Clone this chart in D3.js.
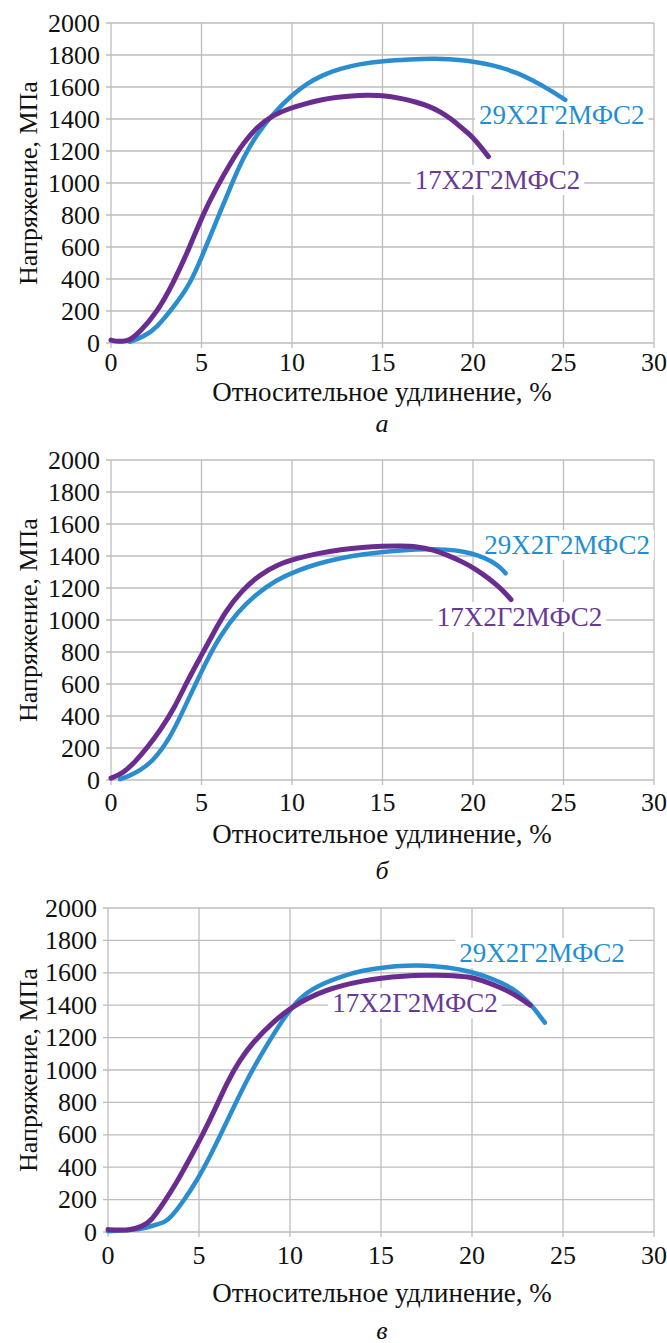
<!DOCTYPE html>
<html><head><meta charset="utf-8">
<script src="https://cdn.jsdelivr.net/npm/d3@7"></script>
<style>html,body{margin:0;padding:0;background:#fff;}svg{display:block;}
text{font-family:"Liberation Serif","Times New Roman",Times,"DejaVu Serif",serif;}</style>
</head><body>
<svg id="chart" width="667" height="1343"></svg>
<script>
// ---- data ----
const xTicks = [0, 5, 10, 15, 20, 25, 30];
const yTicks = [0, 200, 400, 600, 800, 1000, 1200, 1400, 1600, 1800, 2000];
const seriesNames = ["29Х2Г2МФС2", "17Х2Г2МФС2"];
const panelCaptions = ["а", "б", "в"];
const xTitle = "Относительное удлинение, %";
const yTitle = "Напряжение, МПа";

// panel а
const a29 = [[1.05,8],[1.8,40],[2.5,90],[3.6,245],[4.4,375],[5.1,560],[5.85,770],[6.6,975],[7.3,1160],[8.2,1330],[9.15,1455],[9.9,1540],[10.8,1620],[11.7,1675],[12.65,1715],[13.8,1745],[15.0,1762],[16.5,1772],[17.8,1778],[18.7,1775],[19.65,1766],[20.6,1748],[21.5,1725],[22.4,1690],[23.3,1642],[24.2,1585],[25.1,1520]];
const a17 = [[0,18],[0.3,10],[0.6,12],[1.0,12],[1.6,70],[2.5,185],[3.45,375],[4.35,600],[5.1,810],[5.85,975],[6.6,1125],[7.3,1248],[8.05,1350],[8.95,1425],[9.9,1468],[10.8,1497],[11.6,1520],[12.4,1535],[13.3,1545],[14.1,1550],[15.0,1548],[16.0,1530],[16.9,1505],[17.6,1478],[18.2,1445],[18.8,1400],[19.3,1352],[19.8,1305],[20.2,1258],[20.85,1165]];
// panel б
const b29 = [[0.5,5],[1.0,25],[1.6,60],[2.3,115],[3.25,260],[3.95,425],[4.65,595],[5.35,760],[6.05,905],[7.0,1050],[7.95,1155],[9.1,1250],[10.3,1310],[11.5,1355],[12.7,1388],[13.9,1410],[15.0,1425],[16.2,1437],[17.4,1443],[18.5,1442],[19.5,1428],[20.3,1405],[21.0,1370],[21.5,1330],[21.8,1292]];
const b17 = [[0,12],[0.65,40],[1.35,115],[2.05,208],[2.8,325],[3.5,450],[4.2,615],[4.9,760],[5.6,905],[6.3,1050],[7.25,1188],[8.2,1280],[9.1,1342],[10.3,1387],[11.5,1418],[12.7,1440],[13.9,1455],[15.0,1462],[16.0,1463],[16.9,1460],[17.8,1438],[18.6,1405],[19.4,1365],[20.2,1315],[20.9,1258],[21.6,1192],[22.1,1127]];
// panel в
const c29 = [[0,5],[1.2,10],[2.1,25],[2.8,50],[3.1,60],[3.5,95],[4.2,200],[4.9,320],[5.6,465],[6.3,628],[7.0,792],[7.7,955],[8.65,1140],[9.6,1312],[10.5,1445],[11.45,1518],[12.85,1580],[14.0,1615],[15.2,1635],[16.4,1645],[17.5,1645],[18.6,1635],[19.9,1610],[21.1,1565],[22.2,1510],[23.2,1415],[24.0,1292]];
const c17 = [[0,15],[0.6,12],[1.2,12],[1.9,35],[2.35,65],[3.05,178],[3.75,300],[4.45,444],[5.15,590],[5.85,750],[6.55,925],[7.25,1065],[8.0,1175],[9.0,1290],[10.05,1385],[11.0,1445],[12.0,1493],[12.9,1523],[14.0,1550],[15.0,1568],[16.2,1580],[17.5,1585],[18.6,1586],[19.9,1575],[20.5,1555],[21.7,1505],[22.5,1455],[23.2,1400]];

// label anchor positions (data coords: elongation, stress) for each panel
const labelPos29 = [[24.9, 1425], [25.2, 1469], [23.85, 1722]];
const labelPos17 = [[21.35, 1019], [22.57, 1019], [16.87, 1412]];

// ---- layout ----
const panels = [
  {x0:111, x1:654, y0:343, y1:23,  tickY:362, titleY:392, capY:423, s29:a29, s17:a17},
  {x0:111, x1:654, y0:780, y1:460, tickY:802, titleY:834, capY:870, s29:b29, s17:b17},
  {x0:108, x1:654, y0:1232, y1:908, tickY:1255, titleY:1293, capY:1330, s29:c29, s17:c17}
];
const colors = ["#2a8dcf", "#6a2c8e"];
const textColors = ["#1f8fd3", "#683a95"];
const FS = 26, FS2 = 27;

const svg = d3.select("#chart");

panels.forEach((p, i) => {
  const x = d3.scaleLinear().domain([0, 30]).range([p.x0, p.x1]);
  const y = d3.scaleLinear().domain([0, 2000]).range([p.y0, p.y1]);
  const g = svg.append("g");

  // gridlines
  g.append("g").selectAll("line").data(yTicks).join("line")
    .attr("x1", p.x0 - 5).attr("x2", p.x1)
    .attr("y1", d => y(d)).attr("y2", d => y(d))
    .attr("stroke", "#bdbdbd").attr("stroke-width", 1.3);
  g.append("g").selectAll("line").data(xTicks).join("line")
    .attr("x1", d => x(d)).attr("x2", d => x(d))
    .attr("y1", p.y1).attr("y2", p.y0 + 5)
    .attr("stroke", "#bdbdbd").attr("stroke-width", 1.3);

  // tick labels
  g.append("g").selectAll("text").data(yTicks).join("text")
    .attr("x", p.x0 - 11).attr("y", d => y(d))
    .attr("text-anchor", "end").attr("dominant-baseline", "central")
    .attr("font-size", FS).attr("fill", "#111")
    .text(d => d);
  g.append("g").selectAll("text").data(xTicks).join("text")
    .attr("x", d => x(d)).attr("y", p.tickY)
    .attr("text-anchor", "middle").attr("dominant-baseline", "central")
    .attr("font-size", FS).attr("fill", "#111")
    .text(d => d);

  // axis titles
  g.append("text").attr("x", 382).attr("y", p.titleY)
    .attr("text-anchor", "middle").attr("dominant-baseline", "central")
    .attr("font-size", FS2).attr("fill", "#111")
    .text(xTitle);
  g.append("text")
    .attr("transform", `translate(28,${(p.y0 + p.y1) / 2}) rotate(-90)`)
    .attr("text-anchor", "middle").attr("dominant-baseline", "central")
    .attr("font-size", FS).attr("fill", "#111")
    .text(yTitle);
  g.append("text").attr("x", 382).attr("y", p.capY)
    .attr("text-anchor", "middle").attr("dominant-baseline", "central")
    .attr("font-size", FS).attr("font-style", "italic").attr("fill", "#111")
    .text(panelCaptions[i]);

  // labels with white boxes (hide gridlines)
  const labels = [
    {name: seriesNames[0], pos: labelPos29[i], color: textColors[0]},
    {name: seriesNames[1], pos: labelPos17[i], color: textColors[1]}
  ];
  const labelTexts = labels.map(l => svg.append("text")
      .attr("x", x(l.pos[0])).attr("y", y(l.pos[1]))
      .attr("text-anchor", "middle").attr("dominant-baseline", "central")
      .attr("font-size", FS2).attr("fill", l.color)
      .text(l.name));
  labelTexts.forEach((t, k) => {
    const bb = t.node().getBBox();
    const cy = y(labels[k].pos[1]);
    g.append("rect").attr("x", bb.x - 4).attr("y", cy - 15)
      .attr("width", bb.width + 8).attr("height", 30)
      .attr("fill", "#fff");
  });

  // curves
  const line = d3.line().x(d => x(d[0])).y(d => y(d[1])).curve(d3.curveBasis);
  g.append("path").datum(p.s29).attr("d", line)
    .attr("fill", "none").attr("stroke", colors[0]).attr("stroke-width", 4.5)
    .attr("stroke-linecap", "round").attr("stroke-linejoin", "round");
  g.append("path").datum(p.s17).attr("d", line)
    .attr("fill", "none").attr("stroke", colors[1]).attr("stroke-width", 5)
    .attr("stroke-linecap", "round").attr("stroke-linejoin", "round");

  labelTexts.forEach(t => svg.node().appendChild(t.node()));
});
</script>
</body></html>
